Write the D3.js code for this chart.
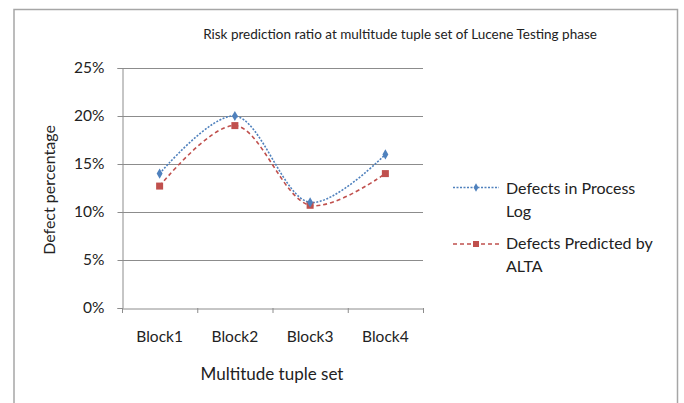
<!DOCTYPE html>
<html><head><meta charset="utf-8">
<script src="https://cdn.jsdelivr.net/npm/d3@7"></script>
<style>body{margin:0;background:#fff}svg text{font-family:Lato,"Open Sans",sans-serif;fill:#222}</style>
</head><body><svg id="c" width="684" height="403"></svg>
<script>
const categories = ["Block1","Block2","Block3","Block4"];
const processLog = [14, 20, 11, 16];
const predicted = [12.7, 19, 10.7, 14];
const yTicks = [0,5,10,15,20,25];
const seriesNames = ["Defects in Process Log","Defects Predicted by ALTA"];

const svg = d3.select("#c");
svg.append("rect").attr("x",14).attr("y",9.5).attr("width",663.5).attr("height",420)
  .attr("fill","none").attr("stroke","#a6a6a6").attr("stroke-width",1.5);

const L=122,R=423,T=68,B=308;
const x = d3.scaleBand().domain(categories).range([L,R]);
const y = d3.scaleLinear().domain([0,25]).range([B,T]);

const grid = svg.append("g");
grid.selectAll("line").data(yTicks.filter(d=>d>0)).join("line")
  .attr("x1",L).attr("x2",R).attr("y1",d=>y(d)+0.5).attr("y2",d=>y(d)+0.5)
  .attr("stroke","#8c8c8c").attr("stroke-width",1);

const yAxis = svg.append("g").attr("transform",`translate(${L+0.5},0)`)
  .call(d3.axisLeft(y).tickValues(yTicks).tickFormat(d=>d+"%").tickSize(5).tickPadding(13));
yAxis.select(".domain").attr("stroke","#8c8c8c");
yAxis.selectAll(".tick line").attr("stroke","#8c8c8c");
yAxis.selectAll(".tick text").attr("font-size",15.5).attr("fill","#222");

const xAxis = svg.append("g").attr("transform",`translate(0,${B+0.5})`)
  .call(d3.axisBottom(x).tickSize(0).tickPadding(22));
xAxis.select(".domain").attr("stroke","#8c8c8c");
xAxis.selectAll(".tick text").attr("font-size",15.5).attr("fill","#222");
svg.append("g").selectAll("line").data(d3.range(categories.length+1)).join("line")
  .attr("x1",i=>L+i*x.step()+0.5).attr("x2",i=>L+i*x.step()+0.5)
  .attr("y1",B).attr("y2",B+5).attr("stroke","#8c8c8c");

const cx = d=>x(d)+x.bandwidth()/2;
const line = vals => d3.line().x((d,i)=>cx(categories[i])).y(d=>y(d)).curve(d3.curveCatmullRom.alpha(0.5))(vals);

svg.append("path").attr("d",line(predicted)).attr("fill","none")
  .attr("stroke","#C0504D").attr("stroke-width",1.6).attr("stroke-dasharray","4,3");
svg.append("path").attr("d",line(processLog)).attr("fill","none")
  .attr("stroke","#4F81BD").attr("stroke-width",1.6).attr("stroke-dasharray","2,1.5");

svg.append("g").selectAll("rect").data(predicted).join("rect")
  .attr("x",(d,i)=>cx(categories[i])-3.5).attr("y",d=>y(d)-3.5).attr("width",7).attr("height",7)
  .attr("fill","#C0504D");
const diamond = d3.symbol().type(d3.symbolDiamond).size(30);
svg.append("g").selectAll("path").data(processLog).join("path")
  .attr("d",diamond).attr("transform",(d,i)=>`translate(${cx(categories[i])},${y(d)})`)
  .attr("fill","#4F81BD");

svg.append("text").attr("x",400).attr("y",39).attr("text-anchor","middle").attr("font-size",13.5)
  .text("Risk prediction ratio at multitude tuple set of Lucene Testing phase");
svg.append("text").attr("x",272).attr("y",380).attr("text-anchor","middle").attr("font-size",17)
  .text("Multitude tuple set");
svg.append("text").attr("transform","translate(55,190) rotate(-90)").attr("text-anchor","middle").attr("font-size",16)
  .text("Defect percentage");

// legend
const lg = svg.append("g");
lg.append("line").attr("x1",453).attr("x2",499).attr("y1",187.5).attr("y2",187.5)
  .attr("stroke","#4F81BD").attr("stroke-width",1.4).attr("stroke-dasharray","2,1.5");
lg.append("path").attr("d",d3.symbol().type(d3.symbolDiamond).size(20)).attr("transform","translate(476,187.5)").attr("fill","#4F81BD");
lg.append("line").attr("x1",453).attr("x2",499).attr("y1",244).attr("y2",244)
  .attr("stroke","#C0504D").attr("stroke-width",1.6).attr("stroke-dasharray","4,3");
lg.append("rect").attr("x",473).attr("y",241).attr("width",6).attr("height",6).attr("fill","#C0504D");
const t1 = lg.append("text").attr("x",506).attr("y",194).attr("font-size",16);
t1.append("tspan").text("Defects in Process");
t1.append("tspan").attr("x",506).attr("dy",23).text("Log");
const t2 = lg.append("text").attr("x",506).attr("y",249).attr("font-size",16);
t2.append("tspan").text("Defects Predicted by");
t2.append("tspan").attr("x",506).attr("dy",23).text("ALTA");
</script></body></html>
